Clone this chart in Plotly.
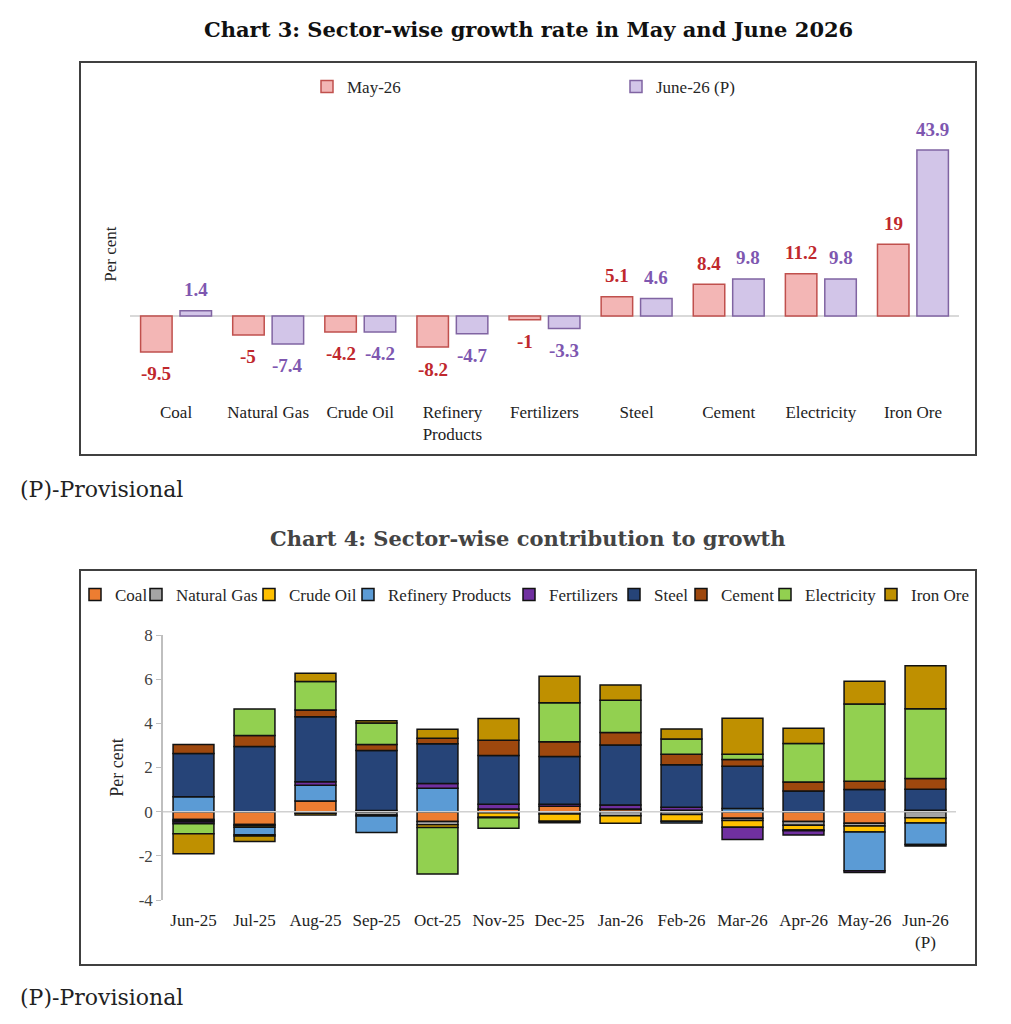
import plotly.graph_objects as go

W, H = 1011, 1024

# ---------------- Chart 3 data ----------------
sectors = ["Coal", "Natural Gas", "Crude Oil", "Refinery<br>Products", "Fertilizers",
           "Steel", "Cement", "Electricity", "Iron Ore"]
may_26 = [-9.5, -5, -4.2, -8.2, -1, 5.1, 8.4, 11.2, 19]
june_26 = [1.4, -7.4, -4.2, -4.7, -3.3, 4.6, 9.8, 9.8, 43.9]

# ---------------- Chart 4 data ----------------
months = ["Jun-25", "Jul-25", "Aug-25", "Sep-25", "Oct-25", "Nov-25", "Dec-25",
          "Jan-26", "Feb-26", "Mar-26", "Apr-26", "May-26", "Jun-26<br>(P)"]
coal =        [-0.36, -0.58, 0.48, -0.03, -0.44, 0.12, 0.24, 0.10, 0.06, -0.30, -0.44, -0.53, 0.06]
natural_gas = [-0.05, -0.05, -0.07, -0.12, -0.15, -0.05, -0.10, -0.18, -0.13, -0.10, -0.17, -0.12, -0.27]
crude_oil =   [-0.06, -0.07, -0.08, -0.05, -0.13, -0.20, -0.33, -0.35, -0.30, -0.30, -0.22, -0.27, -0.24]
refinery =    [0.67, -0.35, 0.72, -0.74, 1.06, -0.03, -0.07, 0.02, -0.08, 0.14, -0.03, -1.75, -0.98]
fertilizers = [-0.08, -0.05, 0.15, 0.05, 0.22, 0.22, 0.10, 0.18, 0.14, -0.56, -0.20, -0.08, -0.07]
steel =       [1.96, 2.95, 2.95, 2.72, 1.80, 2.20, 2.16, 2.72, 1.92, 1.92, 0.94, 1.00, 0.96]
cement =      [0.41, 0.50, 0.30, 0.27, 0.24, 0.69, 0.67, 0.56, 0.48, 0.30, 0.40, 0.38, 0.48]
electricity = [-0.45, 1.20, 1.30, 0.98, -2.10, -0.47, 1.76, 1.47, 0.69, 0.24, 1.75, 3.50, 3.16]
iron_ore =    [-0.90, -0.25, 0.37, 0.10, 0.41, 0.99, 1.20, 0.69, 0.45, 1.63, 0.69, 1.03, 1.95]

y_tick_values = [-4, -2, 0, 2, 4, 6, 8]
y_tick_labels = ["-4", "-2", "0", "2", "4", "6", "8"]

series_names = ["Coal", "Natural Gas", "Crude Oil", "Refinery Products", "Fertilizers",
                "Steel", "Cement", "Electricity", "Iron Ore"]
series_values = [coal, natural_gas, crude_oil, refinery, fertilizers, steel, cement,
                 electricity, iron_ore]
series_colors = ["#ED7D31", "#A5A5A5", "#FFC000", "#5B9BD5", "#7030A0", "#264478",
                 "#9E480E", "#92D050", "#BF9000"]
legend_text_x = [111, 172, 285, 384, 545, 650, 717, 801, 907]

SERIF = "Liberation Serif"
HEAD = "DejaVu Serif"


def px_x(p):
    return p / W


def px_y(p):
    return 1 - p / H


fig = go.Figure()

# Chart 3 bars
fig.add_trace(go.Bar(
    x=sectors, y=may_26, name="May-26", xaxis="x", yaxis="y",
    width=0.342, offset=-0.385,
    marker=dict(color="#F3B6B5", line=dict(color="#C0504D", width=1.5)),
    legend="legend",
))
fig.add_trace(go.Bar(
    x=sectors, y=june_26, name="June-26 (P)", xaxis="x3", yaxis="y",
    width=0.342, offset=0.043,
    marker=dict(color="#D2C5E8", line=dict(color="#8064A2", width=1.5)),
    legend="legend2",
))

# Chart 4 stacked bars
for i, (nm, vals, col) in enumerate(zip(series_names, series_values, series_colors)):
    fig.add_trace(go.Bar(
        x=months, y=vals, name=nm, xaxis="x2", yaxis="y2", width=0.67,
        marker=dict(color=col, line=dict(color="#111111", width=1.5)),
        legend=f"legend{i + 3}",
    ))

annotations = []
# value labels chart 3
for s, v in zip(sectors, may_26):
    annotations.append(dict(
        x=s, y=v, xref="x", yref="y", text=f"<b>{v:g}</b>", showarrow=False,
        xshift=-19.7, yshift=21 if v >= 0 else -22,
        font=dict(family=SERIF, size=19, color="#C0282D")))
for s, v in zip(sectors, june_26):
    annotations.append(dict(
        x=s, y=v, xref="x", yref="y", text=f"<b>{v:g}</b>", showarrow=False,
        xshift=19.7, yshift=21 if v >= 0 else -22,
        font=dict(family=SERIF, size=19, color="#7E57B0")))

# titles and notes
annotations += [
    dict(x=px_x(528), y=px_y(29), xref="paper", yref="paper", showarrow=False,
         text="<b>Chart 3: Sector-wise growth rate in May and June 2026</b>",
         font=dict(family=HEAD, size=21, color="#111111"), xanchor="center", yanchor="middle"),
    dict(x=px_x(18), y=px_y(489), xref="paper", yref="paper", showarrow=False,
         text="(P)-Provisional", font=dict(family=HEAD, size=22, color="#222222"),
         xanchor="left", yanchor="middle"),
    dict(x=px_x(528), y=px_y(538), xref="paper", yref="paper", showarrow=False,
         text="<b>Chart 4: Sector-wise contribution to growth</b>",
         font=dict(family=HEAD, size=21, color="#444444"), xanchor="center", yanchor="middle"),
    dict(x=px_x(18), y=px_y(997), xref="paper", yref="paper", showarrow=False,
         text="(P)-Provisional", font=dict(family=HEAD, size=22, color="#222222"),
         xanchor="left", yanchor="middle"),
]

shapes = [
    dict(type="rect", xref="paper", yref="paper", x0=px_x(80), x1=px_x(976),
         y0=px_y(455), y1=px_y(62), line=dict(color="#404040", width=2)),
    dict(type="rect", xref="paper", yref="paper", x0=px_x(80), x1=px_x(976),
         y0=px_y(965), y1=px_y(570), line=dict(color="#404040", width=2)),
    dict(type="line", xref="x2 domain", yref="y2", x0=0, x1=1, y0=0, y1=0,
         line=dict(color="#D0D0D0", width=1.5), layer="above"),
]

# Chart 3 axes geometry
c3_top, c3_bot, c3_zero, c3_scale = 110, 398, 316, 3.78
c3_range = [-(c3_bot - c3_zero) / c3_scale, (c3_zero - c3_top) / c3_scale]

legend_common = dict(orientation="h", xanchor="left", yanchor="middle",
                     bgcolor="rgba(0,0,0,0)", itemwidth=30,
                     font=dict(family=SERIF, size=17, color="#262626"))

layout = dict(
    width=W, height=H, autosize=False,
    margin=dict(l=0, r=0, t=0, b=0, autoexpand=False),
    paper_bgcolor="white", plot_bgcolor="white",
    barmode="relative", showlegend=True,
    annotations=annotations, shapes=shapes,
    xaxis=dict(domain=[px_x(130), px_x(959)], anchor="y", type="category",
               range=[-0.5, 8.5], showline=False, showgrid=False, ticks="",
               ticklabelstandoff=2,
               tickfont=dict(family=SERIF, size=17, color="#222222")),
    xaxis3=dict(overlaying="x", matches="x", anchor="y", visible=False, type="category"),
    yaxis=dict(domain=[px_y(c3_bot), px_y(c3_top)], anchor="x", range=c3_range,
               showticklabels=False, showgrid=False, ticks="", showline=False,
               zeroline=True, zerolinecolor="#D9D9D9", zerolinewidth=1.5,
               title=dict(text="Per cent", standoff=8,
                          font=dict(family=SERIF, size=17, color="#262626"))),
    xaxis2=dict(domain=[px_x(163), px_x(956)], anchor="y2", type="category",
                range=[-0.5, 12.5], showline=False, showgrid=False, ticks="",
                ticklabelstandoff=8,
                tickfont=dict(family=SERIF, size=17, color="#222222")),
    yaxis2=dict(domain=[px_y(900), px_y(635)], anchor="x2", range=[-4, 8],
                tickmode="array", tickvals=y_tick_values, ticktext=y_tick_labels,
                showgrid=False, zeroline=False, showline=True, linecolor="#BFBFBF",
                linewidth=1.5, ticks="outside", ticklen=5, tickcolor="#BFBFBF",
                tickfont=dict(family=SERIF, size=17, color="#404040"),
                title=dict(text="Per cent", standoff=10,
                           font=dict(family=SERIF, size=18, color="#262626"))),
    legend=dict(x=px_x(343 - 36), y=px_y(87), **legend_common),
    legend2=dict(x=px_x(652 - 36), y=px_y(87), **legend_common),
)
for i, tx in enumerate(legend_text_x):
    layout[f"legend{i + 3}"] = dict(x=px_x(tx - 36), y=px_y(595), **legend_common)

fig.update_layout(**layout)
fig.write_html("out.html")
